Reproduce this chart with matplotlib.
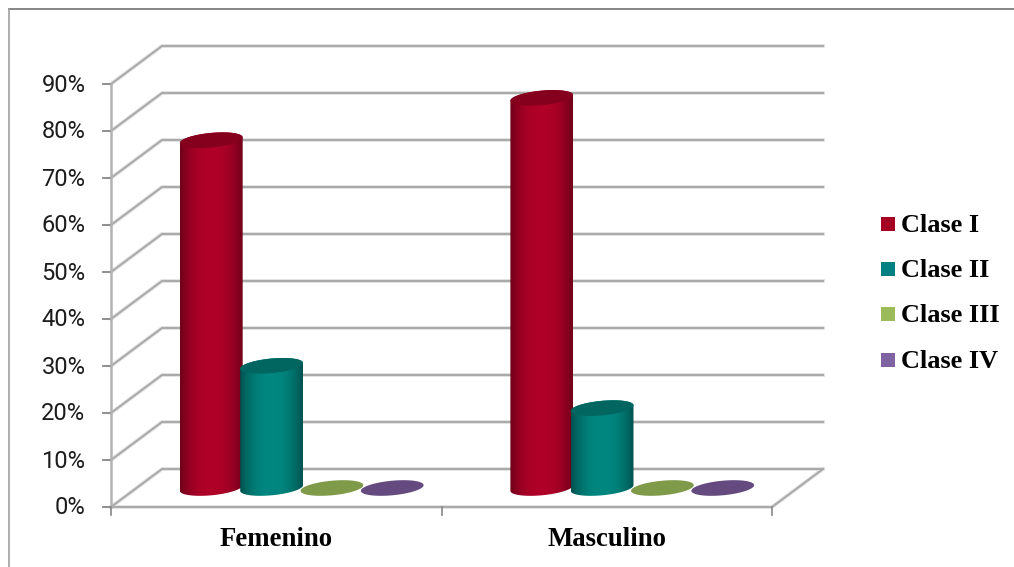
import matplotlib
matplotlib.use('Agg')
import matplotlib.pyplot as plt
import numpy as np
from matplotlib.lines import Line2D
from matplotlib.patches import Polygon, Rectangle
from matplotlib.transforms import IdentityTransform

categories = ['Femenino', 'Masculino']
series = ['Clase I', 'Clase II', 'Clase III', 'Clase IV']
femenino = [74, 26, 0, 0]
masculino = [83, 17, 0, 0]
yticks = [0, 10, 20, 30, 40, 50, 60, 70, 80, 90]

legend_cols = ['#a50021', '#008080', '#9bbb59', '#8064a2']
edge_cols = ['#700019', '#00524f', '#7f9a48', '#644a7f']
mid_cols = ['#b00028', '#008780', '#7f9a48', '#644a7f']
top_cols = ['#85001c', '#00665f', '#7f9a48', '#644a7f']

W, H = 1014, 567
depth_x, depth_y = 51, 38  # how far the back wall sits from the front plane, px
step = 0.1825
bar_w = 0.19

fig = plt.figure(figsize=(W / 100, H / 100), dpi=100)
ax = fig.add_axes([111 / W, 1 - 507 / H, (772 - 111) / W, (507 - 84) / H])
ax.set_xlim(0, 2)
ax.set_ylim(0, 90)
ax.axis('off')

# frame: only the top and left edges are inside the canvas
fig.add_artist(Line2D([9 / W, 1], [1 - 9 / H, 1 - 9 / H], transform=fig.transFigure, color='#868686', lw=1.4))
fig.add_artist(Line2D([9 / W, 9 / W], [0, 1 - 9 / H], transform=fig.transFigure, color='#a0a0a0', lw=1.2))

grid_col = '#a9a9a9'
pixels = IdentityTransform()


def px(x, y):
    return ax.transData.transform((x, y))


# walls: soft line under each gridline, then the line itself
for v in yticks:
    a = px(0, v)
    xs = [a[0], a[0] + depth_x, a[0] + depth_x + 661]
    ys = [a[1], a[1] + depth_y, a[1] + depth_y]
    ax.plot(xs, ys, transform=pixels, color='#e2e2e2', lw=2.8, clip_on=False, zorder=1, solid_joinstyle='miter')
    ax.plot(xs, ys, transform=pixels, color=grid_col, lw=1.4, clip_on=False, zorder=2, solid_joinstyle='miter')
    # value tick and label
    ax.plot([a[0] - 8, a[0]], [a[1], a[1]], transform=pixels, color='#868686', lw=1.3, clip_on=False, zorder=3)
    ax.text(a[0] - 25.5, a[1] - 1, f'{v}%', transform=pixels, ha='right', va='center',
            family='Roboto', fontsize=17, color='#1c1c1c')

# floor, front and right edges
a = px(0, 0)
b = px(2, 0)
ax.plot([a[0], b[0], b[0] + depth_x], [a[1], b[1], b[1] + depth_y], transform=pixels,
        color='#e2e2e2', lw=2.8, clip_on=False, zorder=1)
ax.plot([a[0], b[0], b[0] + depth_x], [a[1], b[1], b[1] + depth_y], transform=pixels,
        color=grid_col, lw=1.4, clip_on=False, zorder=2)

# value axis
top = px(0, 90)
ax.plot([a[0], top[0]], [a[1], top[1]], transform=pixels, color='#b3b3b3', lw=1.8, clip_on=False, zorder=3)

# category ticks and labels
for i in range(3):
    t = px(i, 0)
    ax.plot([t[0], t[0]], [t[1], t[1] - 8], transform=pixels, color='#868686', lw=1.2, clip_on=False, zorder=3)
for i, name in enumerate(categories):
    t = px(i + 0.5, 0)
    ax.text(t[0], t[1] - 32, name, transform=pixels, ha='center', va='center',
            family='Liberation Serif', weight='bold', fontsize=19.3, color='black')


def ellipse_pts(cx, cy, a_px, lo=0.0, hi=2 * np.pi, n=60):
    # ellipse sheared so its right end sits a little higher
    t = np.linspace(lo, hi, n)
    return np.column_stack([cx + a_px * np.cos(t), cy + 7.3 * np.sin(t) + 0.09 * a_px * np.cos(t)])


def cylinder(x, value, k):
    base = px(x, 0) + np.array([depth_x / 2, depth_y / 2])
    head = px(x, value) + np.array([depth_x / 2, depth_y / 2])
    half = ax.transData.transform((x + bar_w / 2, 0))[0] - px(x, 0)[0]
    z = 10 + x + k
    if value > 0:
        # body: lower half of base ellipse, back up over the top one
        low = ellipse_pts(base[0], base[1], half, np.pi, 2 * np.pi)
        up = ellipse_pts(head[0], head[1], half, 0, np.pi)
        body = Polygon(np.vstack([low, up]), closed=True, transform=pixels, fc='none', ec='none')
        ax.add_patch(body)
        # shading across the round side
        c0 = np.array(matplotlib.colors.to_rgb(edge_cols[k]))
        c1 = np.array(matplotlib.colors.to_rgb(mid_cols[k]))
        u = np.abs(np.linspace(-1, 1, 64))[None, :, None]
        img = c1 + (c0 - c1) * u ** 2.4
        im = ax.imshow(img, extent=(base[0] - half, base[0] + half, base[1] - 12, head[1] + 12),
                       transform=pixels, aspect='auto', zorder=z, interpolation='bilinear')
        im.set_clip_path(body)
    ax.add_patch(Polygon(ellipse_pts(head[0], head[1], half), closed=True, transform=pixels,
                         fc=top_cols[k], ec='none', zorder=z + 0.1))


for i, vals in enumerate([femenino, masculino]):
    for k, v in enumerate(vals):
        cylinder(i + 0.5 + (k - 1.5) * step, v, k)
ax.set_xlim(0, 2)
ax.set_ylim(0, 90)

# legend built by hand on the right
legend_y = [224, 269, 314, 360]
for name, col, y in zip(series, legend_cols, legend_y):
    fig.add_artist(Rectangle((881 / W, 1 - (y + 7) / H), 14 / W, 14 / H, transform=fig.transFigure,
                             fc=col, ec='none'))
    fig.text(901 / W, 1 - (y + 1.5) / H, name, ha='left', va='center', family='Liberation Serif',
             weight='bold', fontsize=18.9, color='black')

fig.savefig('out.png', dpi=100)
